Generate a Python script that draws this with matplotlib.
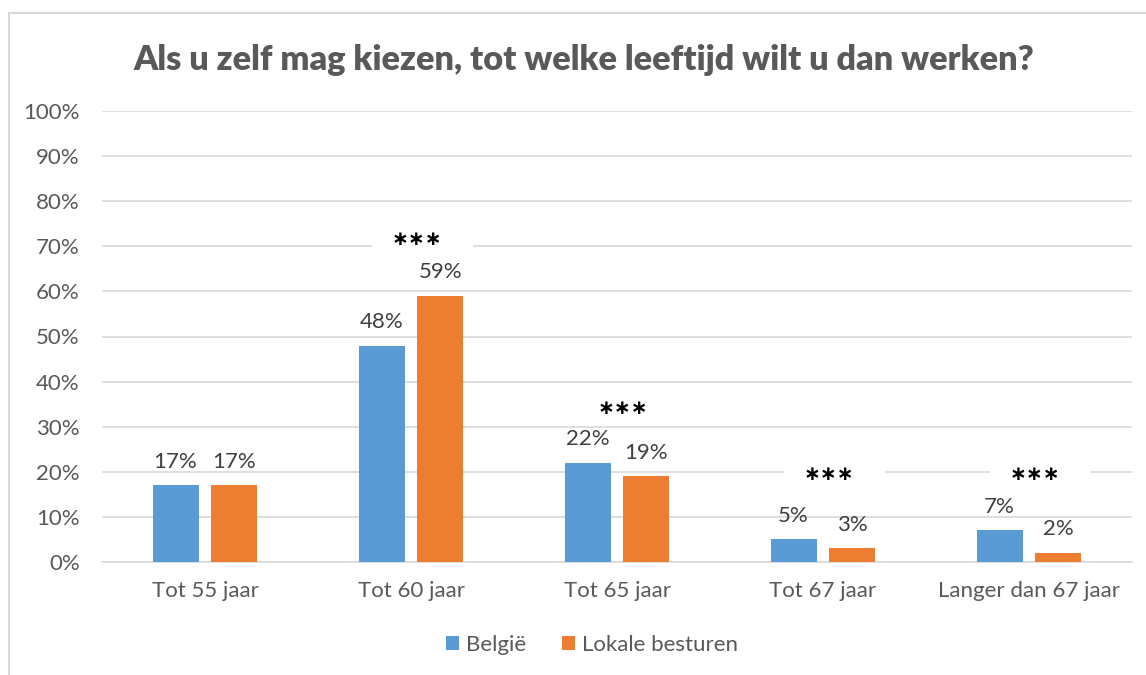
import matplotlib
matplotlib.use('Agg')
import matplotlib.pyplot as plt
from matplotlib.lines import Line2D
from matplotlib.patches import Rectangle
import numpy as np

CATEGORIES = ['Tot 55 jaar', 'Tot 60 jaar', 'Tot 65 jaar', 'Tot 67 jaar', 'Langer dan 67 jaar']
BELGIE = [17, 48, 22, 5, 7]
LOKALE = [17, 59, 19, 3, 2]
SERIES_NAMES = ['België', 'Lokale besturen']
# significance marks: (category index, y position in %)
SIGNIF = [(1, 71.4), (2, 34), (3, 19.3), (4, 19.3)]
TITLE = 'Als u zelf mag kiezen, tot welke leeftijd wilt u dan werken?'

BLUE = '#5B9BD5'
ORANGE = '#ED7D31'
TEXT_GRAY = '#595959'
GRID = '#D9D9D9'

plt.rcParams['font.family'] = ['Lato', 'DejaVu Sans']

W, H = 1146, 675
fig = plt.figure(figsize=(W / 100, H / 100), dpi=100)
ax = fig.add_axes([102 / W, 1 - 562 / H, 1030 / W, 451 / H])

x = np.arange(len(CATEGORIES))
width = 0.223
offset = 0.143
b1 = ax.bar(x - offset, BELGIE, width, color=BLUE, label=SERIES_NAMES[0], zorder=3)
b2 = ax.bar(x + offset, LOKALE, width, color=ORANGE, label=SERIES_NAMES[1], zorder=3)

for bars in (b1, b2):
    for rect in bars:
        v = rect.get_height()
        ax.text(rect.get_x() + rect.get_width() / 2, v + 3.9, f'{v:.0f}%',
                ha='center', va='baseline', fontsize=16, color='#404040', zorder=4)

for i, y in SIGNIF:
    # white label box hiding the gridline behind the stars
    ax.add_patch(Rectangle((i - 0.19, y - 3.4), 0.49, 6.8, facecolor='white',
                           edgecolor='none', zorder=2))
    ax.text(i + 0.03, y, '\u2217\u2217\u2217', ha='center', va='center', fontsize=14.5,
            color='black', fontweight='bold', family='DejaVu Sans', zorder=5)

ax.set_xlim(-0.5, len(CATEGORIES) - 0.5)
ax.set_ylim(0, 100)
ax.set_yticks(np.arange(0, 101, 10))
ax.set_yticklabels([f'{t}%' for t in range(0, 101, 10)])
ax.set_xticks(x)
ax.set_xticklabels(CATEGORIES)
ax.tick_params(axis='both', length=0, labelsize=16, labelcolor=TEXT_GRAY)
ax.tick_params(axis='y', pad=16)
ax.tick_params(axis='x', pad=14)
ax.grid(axis='y', color=GRID, lw=1.2)
ax.set_axisbelow(True)
for s in ('top', 'right', 'left'):
    ax.spines[s].set_visible(False)
ax.spines['bottom'].set_color(GRID)
ax.spines['bottom'].set_linewidth(1.2)

fig.text(584 / W, 1 - 60 / H, TITLE, ha='center', va='center', fontsize=24.7,
         fontweight='heavy', color=TEXT_GRAY)

leg = fig.legend(handles=[b1, b2], loc='center', bbox_to_anchor=(592 / W, 1 - 645 / H),
                 ncol=2, frameon=False, fontsize=16, handlelength=0.6, handleheight=0.6,
                 handletextpad=0.3, columnspacing=1.6)
for t in leg.get_texts():
    t.set_color(TEXT_GRAY)

# chart frame (only left and top edges visible in the crop)
fig.add_artist(Line2D([8.5 / W, 8.5 / W], [0, 1 - 12.5 / H], color=GRID, lw=1.5,
                      transform=fig.transFigure))
fig.add_artist(Line2D([8.5 / W, 1], [1 - 12.5 / H, 1 - 12.5 / H], color=GRID, lw=1.5,
                      transform=fig.transFigure))

fig.savefig('out.png', dpi=100, facecolor='white')
